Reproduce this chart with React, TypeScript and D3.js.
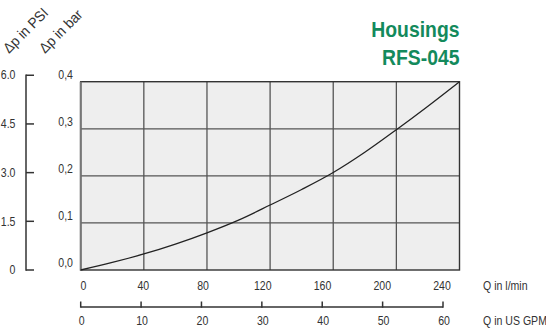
import { useEffect, useRef } from "react";
import * as d3 from "d3";

// flow in l/min and pressure drop in bar
const flowLpm = [0, 20, 40, 60, 80, 100, 120, 140, 160, 180, 200, 220, 240];
const dpBar = [0, 0.016, 0.034, 0.055, 0.079, 0.106, 0.138, 0.171, 0.207, 0.25, 0.298, 0.348, 0.4];

const lpmTicks = [0, 40, 80, 120, 160, 200, 240];
const gpmTicks = [0, 10, 20, 30, 40, 50, 60];
const barTicks = [0, 0.1, 0.2, 0.3, 0.4];
const psiTicks = [0, 1.5, 3.0, 4.5, 6.0];
const titleLines = ["Housings", "RFS-045"];

const FONT = "'Liberation Sans', Arial, Helvetica, sans-serif";
// the original uses a condensed face, so squeeze the text sideways
const SQUEEZE = 0.88;

type Sel = d3.Selection<SVGGElement, unknown, null, undefined>;

function labels<T>(
  g: Sel,
  data: T[],
  px: (d: T, i: number) => number,
  py: (d: T, i: number) => number,
  anchor: string,
  txt: (d: T) => string,
  size = 12,
) {
  g.selectAll("text")
    .data(data)
    .join("text")
    .attr("transform", (d, i) => `translate(${px(d, i)},${py(d, i)}) scale(${SQUEEZE},1)`)
    .attr("dy", "0.35em")
    .attr("text-anchor", anchor)
    .attr("font-size", size)
    .text(txt);
}

export default function App() {
  const svgRef = useRef<SVGSVGElement>(null);

  useEffect(() => {
    if (!svgRef.current) return;
    const width = 546;
    const height = 331;
    const plot = { left: 80.7, right: 459.5, top: 81.7, bottom: 270 };

    d3.select(svgRef.current).selectAll("*").remove();
    const svg = d3
      .select(svgRef.current)
      .attr("width", width)
      .attr("height", height)
      .attr("viewBox", `0 0 ${width} ${height}`)
      .style("font-family", FONT);

    const x = d3.scaleLinear().domain([0, 240]).range([plot.left, plot.right]);
    const y = d3.scaleLinear().domain([0, 0.4]).range([plot.bottom, plot.top]);
    // psi axis shares the bar scale (1 bar = 14.5038 psi)
    const yPsi = d3.scaleLinear().domain([0, 0.4 * 14.5038]).range([plot.bottom, plot.top]);
    const xGpm = d3.scaleLinear().domain([0, 60]).range([80.7, 443]);
    // l/min labels sit above the gpm ticks in the original
    const xLabel = d3.scaleLinear().domain([0, 240]).range([83.5, 442]);

    const ink = "#333";

    // plot background
    svg
      .append("rect")
      .attr("x", plot.left)
      .attr("y", plot.top)
      .attr("width", plot.right - plot.left)
      .attr("height", plot.bottom - plot.top)
      .attr("fill", "#eeeeee");

    // grid
    svg
      .append("g")
      .selectAll("line")
      .data(lpmTicks.slice(1, -1))
      .join("line")
      .attr("x1", (d) => x(d))
      .attr("x2", (d) => x(d))
      .attr("y1", plot.top)
      .attr("y2", plot.bottom)
      .attr("stroke", "#555")
      .attr("stroke-width", 1.3);

    svg
      .append("g")
      .selectAll("line")
      .data(barTicks.slice(1, -1))
      .join("line")
      .attr("x1", plot.left)
      .attr("x2", plot.right)
      .attr("y1", (d) => y(d))
      .attr("y2", (d) => y(d))
      .attr("stroke", "#555")
      .attr("stroke-width", 1.3);

    svg
      .append("rect")
      .attr("x", plot.left)
      .attr("y", plot.top)
      .attr("width", plot.right - plot.left)
      .attr("height", plot.bottom - plot.top)
      .attr("fill", "none")
      .attr("stroke", ink)
      .attr("stroke-width", 1.4);

    svg
      .append("line")
      .attr("x1", plot.left)
      .attr("x2", plot.left)
      .attr("y1", plot.top)
      .attr("y2", plot.bottom + 0.7)
      .attr("stroke", "#777")
      .attr("stroke-width", 2);

    // curve
    const pts = flowLpm.map((q, i) => [q, dpBar[i]] as [number, number]);
    const line = d3
      .line<[number, number]>()
      .x((d) => x(d[0]))
      .y((d) => y(d[1]))
      .curve(d3.curveMonotoneX);
    svg
      .append("path")
      .datum(pts)
      .attr("fill", "none")
      .attr("stroke", "#222")
      .attr("stroke-width", 1.3)
      .attr("d", line);

    const txt = svg.append("g").attr("fill", ink);

    // bar labels
    labels(
      txt.append("g"),
      barTicks,
      () => 73,
      (d) => y(d) - 7,
      "end",
      (d) => d3.format(".1f")(d).replace(".", ","),
    );

    // psi axis
    const psi = svg.append("g").attr("stroke", ink).attr("stroke-width", 1.5);
    psi
      .append("line")
      .attr("x1", 26)
      .attr("x2", 26)
      .attr("y1", yPsi(6) - 0.7)
      .attr("y2", yPsi(0) + 0.7);
    psi
      .selectAll("line.tick")
      .data(psiTicks)
      .join("line")
      .attr("class", "tick")
      .attr("x1", 26)
      .attr("x2", 34)
      .attr("y1", (d) => yPsi(d))
      .attr("y2", (d) => yPsi(d));

    labels(
      txt.append("g"),
      psiTicks,
      () => 15.5,
      (d) => yPsi(d),
      "end",
      (d) => (d === 0 ? "0" : d3.format(".1f")(d)),
    );

    // l/min labels
    labels(txt.append("g"), lpmTicks, (d) => xLabel(d), () => 286, "middle", (d) => String(d));

    // gpm axis
    const gpm = svg.append("g").attr("stroke", ink).attr("stroke-width", 1.5);
    gpm
      .append("line")
      .attr("x1", xGpm(0))
      .attr("x2", xGpm(60))
      .attr("y1", 307)
      .attr("y2", 307);
    gpm
      .selectAll("line.tick")
      .data(gpmTicks)
      .join("line")
      .attr("class", "tick")
      .attr("x1", (d) => xGpm(d))
      .attr("x2", (d) => xGpm(d))
      .attr("y1", 301.5)
      .attr("y2", 307.7);

    labels(txt.append("g"), gpmTicks, (d) => xGpm(d) + 1, () => 320.5, "middle", (d) => String(d));

    // axis titles
    labels(txt.append("g"), ["Q in l/min", "Q in US GPM"], () => 483, (_, i) => (i ? 320.5 : 286), "start", (d) => d);

    txt
      .append("g")
      .selectAll("text")
      .data([
        { t: "Δp in PSI", x: 9, y: 54 },
        { t: "Δp in bar", x: 45, y: 54 },
      ])
      .join("text")
      .attr("transform", (d) => `translate(${d.x},${d.y}) rotate(-45) scale(0.94,1)`)
      .attr("font-size", 14.5)
      .text((d) => d.t);

    // title
    svg
      .append("g")
      .selectAll("text")
      .data(titleLines)
      .join("text")
      .attr("transform", (_, i) => `translate(459.5,${36.7 + i * 28.5}) scale(0.88,1)`)
      .attr("text-anchor", "end")
      .attr("font-size", 22)
      .attr("font-weight", "bold")
      .attr("fill", "#138a5c")
      .text((d) => d);
  }, []);

  return (
    <svg
      ref={svgRef}
      style={{ position: "absolute", left: 0, top: 0, display: "block" }}
    />
  );
}
